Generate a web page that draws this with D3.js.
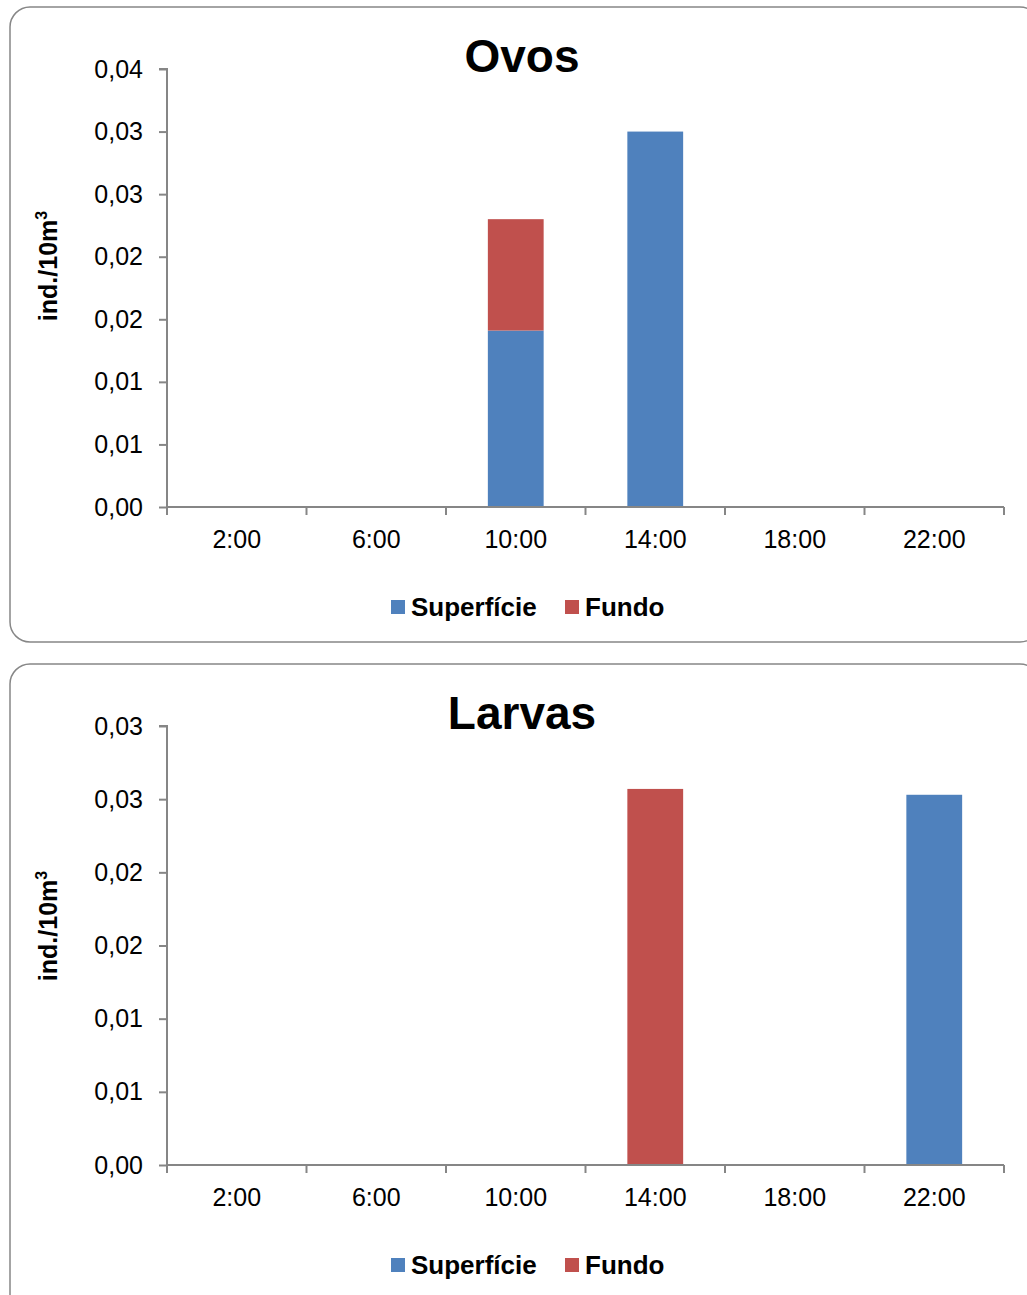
<!DOCTYPE html>
<html><head><meta charset="utf-8">
<script src="https://cdn.jsdelivr.net/npm/d3@7"></script>
<style>body{margin:0;background:#fff;font-family:"Liberation Sans",Arial,sans-serif}</style>
</head><body><svg id="c" width="1027" height="1295"></svg>
<script>
const categories = ["2:00","6:00","10:00","14:00","18:00","22:00"];
const seriesNames = ["Superfície","Fundo"];
const seriesColors = ["#4F81BD","#C0504D"];
const ovosSuperficie = [0,0,0.0141,0.0300,0,0];
const ovosFundo = [0,0,0.0089,0,0,0];
const larvasSuperficie = [0,0,0,0,0,0.0253];
const larvasFundo = [0,0,0,0.0257,0,0];
const ovosTickValues = [0,0.005,0.01,0.015,0.02,0.025,0.03,0.035];
const ovosTickLabels = ["0,00","0,01","0,01","0,02","0,02","0,03","0,03","0,04"];
const larvasTickValues = [0,0.005,0.01,0.015,0.02,0.025,0.03];
const larvasTickLabels = ["0,00","0,01","0,01","0,02","0,02","0,03","0,03"];

const svg = d3.select("#c");
const FF = "Liberation Sans, Arial, sans-serif";

function panel(cfg){
  const g = svg.append("g").attr("font-family",FF);
  g.append("rect").attr("x",cfg.box[0]).attr("y",cfg.box[1]).attr("width",cfg.box[2]).attr("height",cfg.box[3])
    .attr("rx",20).attr("ry",20).attr("fill","#fff").attr("stroke","#878787").attr("stroke-width",1.5);
  const x = d3.scaleBand().domain(categories).range([167,1004]).paddingInner(0).paddingOuter(0);
  const y = d3.scaleLinear().domain([0,cfg.max]).range([cfg.y0,cfg.yTop]);
  const data = categories.map((c,i)=>({c, s:cfg.sup[i], f:cfg.fun[i]}));
  const stack = d3.stack().keys(["s","f"])(data);
  const bw = x.bandwidth()*0.4;
  stack.forEach((layer,li)=>{
    g.selectAll(null).data(layer.filter(d=>d[1]-d[0]>0)).enter().append("rect")
      .attr("x",d=>x(d.data.c)+(x.bandwidth()-bw)/2).attr("width",bw)
      .attr("y",d=>y(d[1])).attr("height",d=>y(d[0])-y(d[1]))
      .attr("fill",seriesColors[li]);
  });
  const ya = d3.axisLeft(y).tickValues(cfg.tv).tickFormat((d,i)=>cfg.tl[i]).tickSize(8).tickPadding(16);
  const yg = g.append("g").attr("transform","translate(167,0)").call(ya);
  yg.select(".domain").attr("stroke","#868686").attr("stroke-width",2).attr("d",`M-8,${cfg.yTop}H0V${cfg.y0}`);
  yg.selectAll(".tick line").attr("stroke","#868686").attr("stroke-width",2);
  yg.selectAll(".tick text").attr("font-size",25).attr("font-family",FF).attr("fill","#000");
  const xa = d3.axisBottom(x).tickSize(0).tickPadding(23);
  const xg = g.append("g").attr("transform",`translate(0,${cfg.y0})`).call(xa);
  xg.select(".domain").attr("stroke","#868686").attr("stroke-width",2).attr("d","M167,0H1004");
  xg.selectAll(".tick text").attr("font-size",25).attr("font-family",FF).attr("fill","#000");
  const bounds = categories.map(c=>x(c)).concat([x.range()[1]]);
  xg.selectAll(".bt").data(bounds).enter().append("line").attr("class","bt")
    .attr("x1",d=>d).attr("x2",d=>d).attr("y1",0).attr("y2",8).attr("stroke","#868686").attr("stroke-width",2);
  g.append("text").attr("x",522).attr("y",cfg.titleY).attr("text-anchor","middle")
    .attr("font-size",46).attr("font-weight","bold").text(cfg.title);
  const yt = g.append("text").attr("transform",`translate(57,${cfg.ytY}) rotate(-90)`).attr("text-anchor","middle")
    .attr("font-size",25).attr("font-weight","bold");
  yt.append("tspan").text("ind./10m");
  yt.append("tspan").attr("font-size",16).attr("dy",-10).text("3");
  const lg = g.append("g").attr("transform",`translate(391,${cfg.legY})`);
  const items = [{n:seriesNames[0],c:seriesColors[0],x:0},{n:seriesNames[1],c:seriesColors[1],x:174}];
  items.forEach(it=>{
    lg.append("rect").attr("x",it.x).attr("y",-7).attr("width",14).attr("height",14).attr("fill",it.c);
    lg.append("text").attr("x",it.x+20).attr("y",9).attr("font-size",26).attr("font-weight","bold").text(it.n);
  });
}

panel({box:[10,7,1030,635], max:0.035, y0:507, yTop:69, sup:ovosSuperficie, fun:ovosFundo,
  tv:ovosTickValues, tl:ovosTickLabels, title:"Ovos", titleY:72, ytY:266, legY:607});
panel({box:[10,664,1030,650], max:0.03, y0:1165, yTop:726, sup:larvasSuperficie, fun:larvasFundo,
  tv:larvasTickValues, tl:larvasTickLabels, title:"Larvas", titleY:729, ytY:926, legY:1265});
</script></body></html>
